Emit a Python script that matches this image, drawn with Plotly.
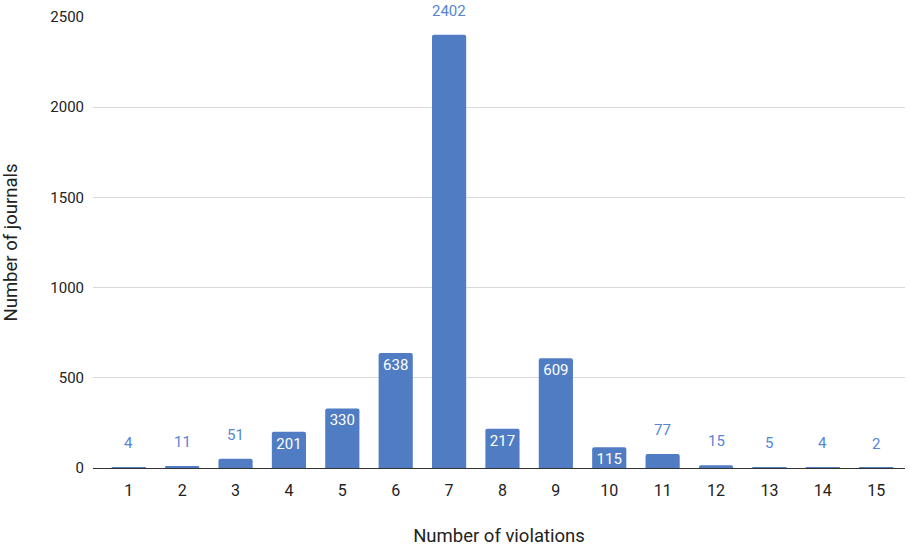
import plotly.graph_objects as go

violations = list(range(1, 16))
journals = [4, 11, 51, 201, 330, 638, 2402, 217, 609, 115, 77, 15, 5, 4, 2]
y_ticks = [0, 500, 1000, 1500, 2000, 2500]

BAR = "#4f7cc2"
LABEL = "#5685d1"
FONT = "Roboto, Arial, sans-serif"

inside_threshold = 100
inside_text = [str(v) if (v >= inside_threshold and v < 2000) else "" for v in journals]

fig = go.Figure()
fig.add_trace(go.Bar(
    x=violations, y=journals,
    marker=dict(color=BAR, line=dict(width=0)),
    width=0.64,
    text=inside_text,
    textposition="inside",
    insidetextanchor="end",
    textfont=dict(color="white", size=15, family=FONT),
    cliponaxis=False,
    hoverinfo="x+y",
))

annotations = []
for x, v in zip(violations, journals):
    if v < inside_threshold or v >= 2000:
        annotations.append(dict(
            x=x, y=v, xref="x", yref="y", text=str(v), showarrow=False,
            yshift=24, font=dict(color=LABEL, size=15, family=FONT),
        ))

fig.update_layout(
    width=910, height=547,
    margin=dict(l=93, r=5, t=17, b=79),
    paper_bgcolor="white", plot_bgcolor="white",
    font=dict(family=FONT, color="#222222"),
    showlegend=False,
    barcornerradius=2,
    uniformtext=dict(minsize=15, mode="show"),
    annotations=annotations,
    xaxis=dict(
        range=[0.33, 15.54],
        tickmode="array", tickvals=violations, ticktext=[str(v) for v in violations],
        tickfont=dict(size=16, color="#222222"),
        showgrid=False, zeroline=False,
        showline=True, linecolor="#333333", linewidth=1,
        ticks="", ticklen=0, ticklabelstandoff=8,
        title=dict(text="Number of violations", font=dict(size=18.5, color="#222222"), standoff=40),
        automargin=False,
    ),
    yaxis=dict(
        range=[0, 2500],
        tickmode="array", tickvals=y_ticks, ticktext=[str(v) for v in y_ticks],
        tickfont=dict(size=15, color="#222222"),
        showgrid=True, gridcolor="#d9d9d9", gridwidth=1,
        zeroline=False, ticks="", ticklabelstandoff=8,
        title=dict(text="Number of journals", font=dict(size=18.5, color="#222222"), standoff=27),
        automargin=False,
    ),
)

fig.write_html(
    "out.html",
    config={"displayModeBar": False},
    post_script="document.body.style.margin='0';document.body.style.overflow='hidden';",
)
